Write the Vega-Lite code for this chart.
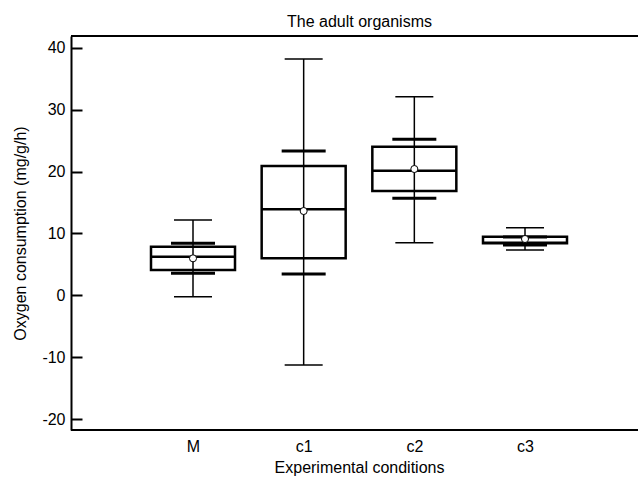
{
  "$schema": "https://vega.github.io/schema/vega-lite/v6.json",
  "autosize": {"type": "none"},
  "padding": {"left": 71, "top": 36, "right": 0, "bottom": 47},
  "width": 567,
  "height": 394,
  "background": "white",
  "config": {"view": {"stroke": null}, "font": "Liberation Sans"},
  "title": {"text": "The adult organisms", "fontSize": 16, "fontWeight": "normal", "font": "Liberation Sans", "color": "black", "anchor": "middle", "frame": "group", "offset": -8, "baseline": "alphabetic", "dx": 5},
  "data": {"values": [
    {"condition": "M", "low": -0.21, "ci_low": 3.57, "q1": 4.1, "median": 6.25, "mean": 5.99, "q3": 7.86, "ci_high": 8.41, "high": 12.18},
    {"condition": "c1", "low": -11.24, "ci_low": 3.46, "q1": 5.99, "median": 13.9, "mean": 13.63, "q3": 20.89, "ci_high": 23.32, "high": 38.17},
    {"condition": "c2", "low": 8.51, "ci_low": 15.68, "q1": 16.86, "median": 20.14, "mean": 20.41, "q3": 24.01, "ci_high": 25.21, "high": 32.08},
    {"condition": "c3", "low": 7.33, "ci_low": 8.14, "q1": 8.41, "median": 8.5, "mean": 9.11, "q3": 9.48, "ci_high": 9.45, "high": 10.93}
  ]},
  "layer": [
    {
      "mark": {"type": "bar", "size": 84, "fill": "white", "stroke": "black", "strokeWidth": 2.5},
      "encoding": {
        "x": {"field": "condition", "type": "nominal", "sort": null,
              "scale": {"type": "point", "range": [122, 454], "padding": 0},
              "axis": {"title": "Experimental conditions", "ticks": false, "domain": false, "labelAngle": 0,
                       "labelFontSize": 16, "labelColor": "black", "labelFont": "Liberation Sans", "labelPadding": 8,
                       "titleFontSize": 16, "titleFontWeight": "normal", "titleColor": "black", "titleFont": "Liberation Sans", "titlePadding": 5}},
        "y": {"field": "q1", "type": "quantitative",
              "scale": {"domain": [-21.73, 41.89], "nice": false, "zero": false},
              "axis": {"values": [-20, -15, -10, -5, 0, 5, 10, 15, 20, 25, 30, 35, 40],
                       "labelExpr": "datum.value % 10 === 0 ? '' + datum.value : ''",
                       "tickSize": {"condition": {"test": "datum.value % 10 === 0", "value": -11}, "value": -6},
                       "tickColor": "black", "tickWidth": 2, "domainColor": "black", "domainWidth": 2,
                       "labelPadding": 17, "labelFontSize": 16, "labelColor": "black", "labelFont": "Liberation Sans",
                       "grid": false, "title": "Oxygen consumption (mg/g/h)", "titleFontSize": 16, "titleFontWeight": "normal",
                       "titleColor": "black", "titleFont": "Liberation Sans", "titlePadding": 13}},
        "y2": {"field": "q3"}
      }
    },
    {
      "mark": {"type": "rule", "color": "black", "strokeWidth": 1.5},
      "encoding": {
        "x": {"field": "condition", "type": "nominal", "sort": null},
        "y": {"field": "low", "type": "quantitative"},
        "y2": {"field": "high"}
      }
    },
    {
      "mark": {"type": "tick", "color": "black", "size": 38, "thickness": 1.5, "opacity": 1},
      "encoding": {
        "x": {"field": "condition", "type": "nominal", "sort": null},
        "y": {"field": "low", "type": "quantitative"}
      }
    },
    {
      "mark": {"type": "tick", "color": "black", "size": 38, "thickness": 1.5, "opacity": 1},
      "encoding": {
        "x": {"field": "condition", "type": "nominal", "sort": null},
        "y": {"field": "high", "type": "quantitative"}
      }
    },
    {
      "mark": {"type": "tick", "color": "black", "size": 44, "thickness": 3, "opacity": 1},
      "encoding": {
        "x": {"field": "condition", "type": "nominal", "sort": null},
        "y": {"field": "ci_low", "type": "quantitative"}
      }
    },
    {
      "mark": {"type": "tick", "color": "black", "size": 44, "thickness": 3, "opacity": 1},
      "encoding": {
        "x": {"field": "condition", "type": "nominal", "sort": null},
        "y": {"field": "ci_high", "type": "quantitative"}
      }
    },
    {
      "mark": {"type": "tick", "color": "black", "size": 84, "thickness": 2.5, "opacity": 1},
      "encoding": {
        "x": {"field": "condition", "type": "nominal", "sort": null},
        "y": {"field": "median", "type": "quantitative"}
      }
    },
    {
      "mark": {"type": "point", "filled": true, "fill": "white", "stroke": "black", "strokeWidth": 1, "size": 50, "opacity": 1},
      "encoding": {
        "x": {"field": "condition", "type": "nominal", "sort": null},
        "y": {"field": "mean", "type": "quantitative"}
      }
    },
    {
      "mark": {"type": "rule", "color": "black", "strokeWidth": 2},
      "encoding": {"y": {"datum": 41.89, "type": "quantitative"}}
    },
    {
      "mark": {"type": "rule", "color": "black", "strokeWidth": 2},
      "encoding": {"y": {"datum": -21.73, "type": "quantitative"}}
    }
  ]
}
